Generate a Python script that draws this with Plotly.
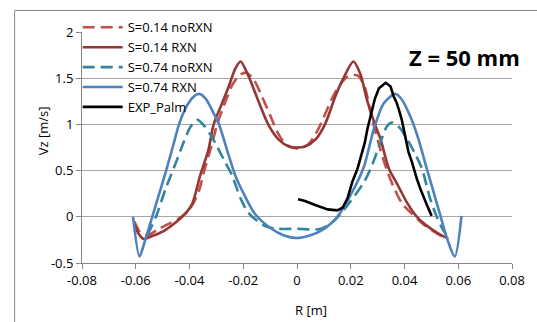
import plotly.graph_objects as go

# S=0.14 noRXN (dashed light red)
s14n_x = [-0.0605, -0.058, -0.0555, -0.052, -0.048, -0.044, -0.040, -0.0365, -0.0347, -0.032, -0.0297, -0.027, -0.024, -0.0215, -0.019, -0.016, -0.013, -0.010, -0.007, -0.004, 0.0,
          0.004, 0.007, 0.010, 0.013, 0.016, 0.019, 0.0225, 0.025, 0.028, 0.031, 0.0335, 0.036, 0.039, 0.0425, 0.047, 0.051, 0.0545, 0.056]
s14n_y = [-0.05, -0.18, -0.20, -0.14, -0.08, -0.02, 0.08, 0.28, 0.48, 0.75, 1.0, 1.22, 1.43, 1.53, 1.56, 1.48, 1.30, 1.10, 0.90, 0.78, 0.74,
          0.78, 0.90, 1.08, 1.28, 1.43, 1.52, 1.53, 1.42, 1.05, 0.73, 0.50, 0.32, 0.15, 0.04, -0.08, -0.16, -0.22, -0.24]

# S=0.14 RXN (solid dark red)
s14r_x = [-0.0605, -0.059, -0.057, -0.054, -0.050, -0.046, -0.042, -0.039, -0.036, -0.033, -0.031, -0.028, -0.0254, -0.023, -0.021, -0.018, -0.015, -0.0107, -0.007, -0.003, 0.0,
          0.003, 0.007, 0.0104, 0.0145, 0.0173, 0.021, 0.0235, 0.0262, 0.029, 0.0311, 0.0342, 0.0372, 0.041, 0.0446, 0.048, 0.052, 0.0563]
s14r_y = [-0.08, -0.18, -0.24, -0.21, -0.16, -0.08, 0.02, 0.14, 0.45, 0.72, 1.0, 1.22, 1.41, 1.60, 1.68, 1.52, 1.30, 1.0, 0.84, 0.76, 0.75,
          0.76, 0.84, 1.0, 1.32, 1.50, 1.68, 1.55, 1.25, 1.0, 0.84, 0.52, 0.36, 0.15, 0.0, -0.09, -0.17, -0.24]

# S=0.74 noRXN (dashed teal)
s74n_x = [-0.0557, -0.0525, -0.0488, -0.045, -0.042, -0.0395, -0.0371, -0.035, -0.032, -0.029, -0.0267, -0.0242, -0.021, -0.018, -0.0119, -0.007, 0.0, 0.009,
          0.0139, 0.017, 0.020, 0.025, 0.0274, 0.0305, 0.0335, 0.0355, 0.038, 0.041, 0.044, 0.0465, 0.0495, 0.052, 0.0545, 0.0557]
s74n_y = [-0.20, 0.0, 0.31, 0.59, 0.82, 0.98, 1.05, 1.0, 0.88, 0.72, 0.59, 0.45, 0.20, 0.04, -0.10, -0.13, -0.13, -0.13,
          -0.04, 0.06, 0.17, 0.38, 0.52, 0.76, 0.98, 1.02, 0.97, 0.84, 0.68, 0.52, 0.20, 0.0, -0.15, -0.20]

# S=0.74 RXN (solid blue)
s74r_x = [-0.061, -0.0586, -0.057, -0.055, -0.052, -0.0488, -0.046, -0.0439, -0.041, -0.0385, -0.0365, -0.034, -0.031, -0.029, -0.026, -0.023, -0.020, -0.0156, -0.0095, -0.005, 0.0,
          0.005, 0.009, 0.015, 0.0213, 0.025, 0.0286, 0.0323, 0.0366, 0.039, 0.0421, 0.0452, 0.048, 0.0532, 0.056, 0.0587, 0.0612]
s74r_y = [0.0, -0.43, -0.30, -0.11, 0.18, 0.49, 0.78, 1.0, 1.2, 1.3, 1.33, 1.28, 1.12, 1.0, 0.72, 0.45, 0.26, 0.03, -0.13, -0.20, -0.23,
          -0.20, -0.15, 0.0, 0.31, 0.55, 0.95, 1.23, 1.33, 1.27, 1.09, 0.84, 0.55, 0.03, -0.25, -0.43, 0.01]

# EXP_Palm (black)
exp_x = [0.0004, 0.003, 0.0065, 0.009, 0.0114, 0.015, 0.017, 0.0188, 0.0206, 0.0225, 0.0235, 0.0243, 0.0252, 0.0262, 0.027, 0.028, 0.029, 0.0305, 0.032, 0.033,
         0.034, 0.0348, 0.036, 0.037, 0.0379, 0.039, 0.0397, 0.0405, 0.0415, 0.0428, 0.0434, 0.0445, 0.0458, 0.047, 0.0483, 0.0501]
exp_y = [0.19, 0.17, 0.13, 0.10, 0.08, 0.07, 0.10, 0.20, 0.38, 0.52, 0.62, 0.72, 0.80, 0.95, 1.05, 1.16, 1.28, 1.39, 1.43, 1.45,
         1.43, 1.41, 1.30, 1.24, 1.16, 1.05, 0.95, 0.85, 0.70, 0.59, 0.52, 0.42, 0.31, 0.22, 0.13, 0.01]

x_ticks = [-0.08, -0.06, -0.04, -0.02, 0, 0.02, 0.04, 0.06, 0.08]
x_tick_text = ["-0.08", "-0.06", "-0.04", "-0.02", "0", "0.02", "0.04", "0.06", "0.08"]
y_ticks = [-0.5, 0, 0.5, 1, 1.5, 2]
y_tick_text = ["-0.5", "0", "0.5", "1", "1.5", "2"]

FONT = "'Open Sans', Lato, sans-serif"
W = 2.6
DASH = "12px,6px"
fig = go.Figure()
series = [
    (s14n_x, s14n_y, "S=0.14 noRXN", "#C0504D", DASH, "spline"),
    (s14r_x, s14r_y, "S=0.14 RXN", "#943634", "solid", "spline"),
    (s74n_x, s74n_y, "S=0.74 noRXN", "#31859C", DASH, "spline"),
    (s74r_x, s74r_y, "S=0.74 RXN", "#4F81BD", "solid", "spline"),
    (exp_x, exp_y, "EXP_Palm", "#000000", "solid", "linear"),
]
for i, (xs, ys, nm, col, dash, shp) in enumerate(series):
    line = dict(color=col, width=W, dash=dash, shape=shp)
    if shp == "spline":
        line["smoothing"] = 0.8
    fig.add_trace(go.Scatter(x=xs, y=ys, mode="lines", name=nm, legendgroup="g%d" % i, line=line))

fig.update_layout(
    width=537, height=322, autosize=False,
    margin=dict(l=82, r=21, t=27, b=59),
    paper_bgcolor="white", plot_bgcolor="white",
    font=dict(family=FONT, size=12, color="#000000"),
    showlegend=True,
    legend=dict(x=-0.01, y=1.085, xanchor="left", yanchor="top", bgcolor="rgba(0,0,0,0)",
                font=dict(size=13, color="#000000"), itemwidth=40, tracegroupgap=0,
                traceorder="grouped"),
    xaxis=dict(range=[-0.08, 0.08], tickvals=x_ticks, ticktext=x_tick_text, showgrid=False, zeroline=False,
               showline=True, linecolor="#868686", linewidth=1, ticks="outside", ticklen=5, tickcolor="#868686",
               tickfont=dict(size=13, color="#000000")),
    yaxis=dict(range=[-0.5, 2], tickvals=y_ticks, ticktext=y_tick_text, showgrid=True, gridcolor="#A6A6A6", gridwidth=1,
               zeroline=False, showline=True, linecolor="#868686", linewidth=1, ticks="outside", ticklen=5,
               tickcolor="#868686", tickfont=dict(size=13, color="#000000")),
    annotations=[
        dict(text="Vz [m/s]", xref="paper", yref="paper", x=(42 - 82) / 434, y=(263 - 128) / 236, showarrow=False,
             textangle=-90, font=dict(size=13, color="#000000"), xanchor="center", yanchor="middle"),
        dict(text="R [m]", xref="paper", yref="paper", x=(313 - 82) / 434, y=(263 - 311) / 236, showarrow=False,
             font=dict(size=13, color="#000000"), xanchor="center", yanchor="middle"),
        dict(text="<b>Z = 50 mm</b>", xref="paper", yref="paper", x=(468 - 82) / 434, y=(263 - 53) / 236,
             showarrow=False, font=dict(size=22, color="#000000"), xanchor="center", yanchor="middle"),
    ],
    shapes=[
        dict(type="line", xref="paper", yref="paper", x0=(14 - 82) / 434, x1=(14 - 82) / 434,
             y0=(263 - 5) / 236, y1=(263 - 330) / 236, line=dict(color="#868686", width=1)),
        dict(type="line", xref="paper", yref="paper", x0=(14 - 82) / 434, x1=(545 - 82) / 434,
             y0=(263 - 5) / 236, y1=(263 - 5) / 236, line=dict(color="#868686", width=1)),
    ],
)

fig.write_html("out.html")
